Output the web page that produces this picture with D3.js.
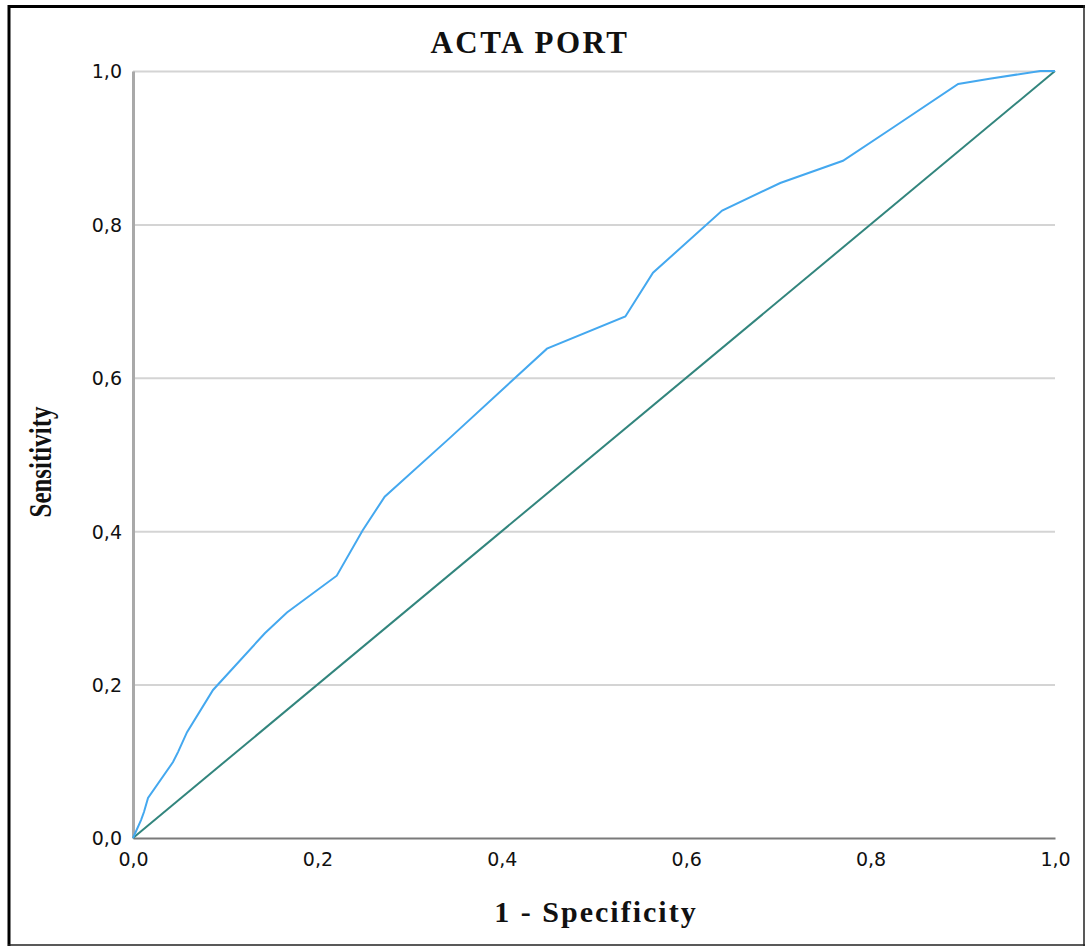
<!DOCTYPE html>
<html lang="en">
<head>
    <meta charset="UTF-8">
    <title>ACTA PORT</title>
    <script src="https://d3js.org/d3.v7.min.js"></script>
    <style>
        body { margin: 0; background: #fff; }
        .tick text { font-family: "DejaVu Sans", sans-serif; font-size: 19px; fill: #111; }
        .title { font-family: "Liberation Serif", serif; font-weight: bold; fill: #111; }
    </style>
</head>
<body>
    <div id="chart"></div>
    <script>
        // ROC curve
        const fpr = [0, 0.0087, 0.0119, 0.0163, 0.0434, 0.0488, 0.0586, 0.0868, 0.143, 0.167, 0.221, 0.249, 0.273,
            0.344, 0.449, 0.534, 0.564, 0.639, 0.702, 0.770, 0.824, 0.895, 0.929, 0.984, 1];
        const tpr = [0, 0.0234, 0.0339, 0.0521, 0.099, 0.112, 0.138, 0.193, 0.267, 0.294, 0.342, 0.401, 0.445,
            0.522, 0.638, 0.680, 0.737, 0.818, 0.854, 0.883, 0.926, 0.983, 0.990, 1.0, 1];
        // reference line
        const refX = [0, 1];
        const refY = [0, 1];
        const ticks = [0, 0.2, 0.4, 0.6, 0.8, 1.0];

        const width = 1088, height = 947;
        const margin = { top: 71, right: 33, bottom: 109, left: 133 };

        const svg = d3.select("#chart").append("svg")
            .attr("width", width)
            .attr("height", height);

        const x = d3.scaleLinear().domain([0, 1]).range([margin.left, width - margin.right]);
        const y = d3.scaleLinear().domain([0, 1]).range([height - margin.bottom, margin.top]);
        const fmt = d => d3.format(".1f")(d).replace(".", ",");

        // horizontal gridlines
        svg.append("g")
            .attr("transform", `translate(${margin.left},0)`)
            .call(d3.axisLeft(y).tickValues(ticks.slice(1)).tickSize(-(x(1) - x(0))).tickFormat(""))
            .call(g => g.select(".domain").remove())
            .call(g => g.selectAll("line").attr("stroke", "#d4d4d4").attr("stroke-width", 2));

        // y axis
        svg.append("g")
            .attr("transform", `translate(${margin.left},0)`)
            .call(d3.axisLeft(y).tickValues(ticks).tickSize(0).tickPadding(11).tickFormat(fmt))
            .call(g => g.select(".domain").attr("stroke", "#a9a9a9").attr("stroke-width", 3))
            .call(g => g.selectAll("text").attr("dy", "0.36em"));

        // x axis
        svg.append("g")
            .attr("transform", `translate(0,${y(0)})`)
            .call(d3.axisBottom(x).tickValues(ticks).tickSize(0).tickPadding(15).tickFormat(fmt))
            .call(g => g.select(".domain").attr("stroke", "#7a7a7a").attr("stroke-width", 2));

        const line = d3.line().x(d => x(d[0])).y(d => y(d[1]));

        // diagonal reference
        svg.append("path")
            .datum(d3.zip(refX, refY))
            .attr("fill", "none")
            .attr("stroke", "#32857d")
            .attr("stroke-width", 2)
            .attr("d", line);

        // ROC curve
        svg.append("path")
            .datum(d3.zip(fpr, tpr))
            .attr("fill", "none")
            .attr("stroke", "#44a8ef")
            .attr("stroke-width", 2)
            .attr("d", line);

        // titles
        svg.append("text")
            .attr("class", "title")
            .attr("x", 530).attr("y", 53)
            .attr("text-anchor", "middle")
            .style("font-size", "31px")
            .style("letter-spacing", "2.5px")
            .text("ACTA PORT");

        svg.append("text")
            .attr("class", "title")
            .attr("x", 596).attr("y", 922)
            .attr("text-anchor", "middle")
            .style("font-size", "30px")
            .style("letter-spacing", "2px")
            .text("1 - Specificity");

        svg.append("text")
            .attr("class", "title")
            .attr("transform", "translate(51,462) rotate(-90)")
            .attr("text-anchor", "middle")
            .style("font-size", "31px")
            .attr("textLength", 111)
            .attr("lengthAdjust", "spacingAndGlyphs")
            .text("Sensitivity");

        // outer frame
        svg.append("line").attr("x1", 9).attr("x2", 9).attr("y1", 5).attr("y2", 946)
            .attr("stroke", "#000").attr("stroke-width", 3);
        svg.append("line").attr("x1", 8).attr("x2", 1085).attr("y1", 6.5).attr("y2", 6.5)
            .attr("stroke", "#000").attr("stroke-width", 3);
        svg.append("line").attr("x1", 1084).attr("x2", 1084).attr("y1", 5).attr("y2", 946)
            .attr("stroke", "#222").attr("stroke-width", 1.5);
        svg.append("line").attr("x1", 8).attr("x2", 1085).attr("y1", 945).attr("y2", 945)
            .attr("stroke", "#222").attr("stroke-width", 1.5);
    </script>
</body>
</html>
